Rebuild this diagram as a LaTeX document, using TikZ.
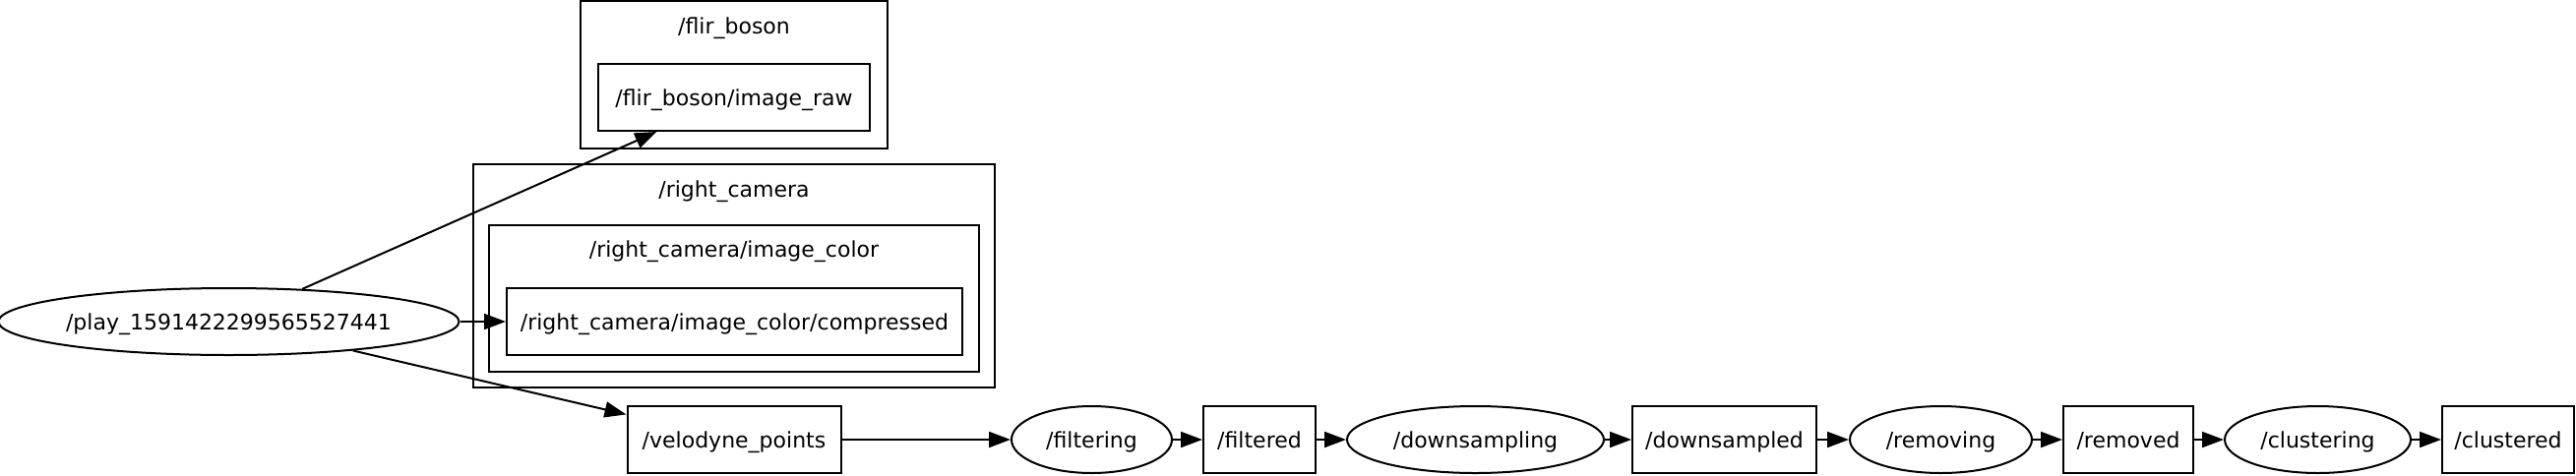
\documentclass[tikz,border=0pt]{standalone}
\usepackage{fontspec}
\setmainfont{DejaVu Sans}
\usepackage{tikz}
\usetikzlibrary{shapes.geometric,arrows.meta}

\begin{document}
\begin{tikzpicture}[x=0.5pt, y=-0.5pt, line width=1pt,
      every node/.style={font=\fontsize{11}{13}\selectfont, text depth=0pt},
      topic/.style={rectangle, draw, minimum height=34pt, inner sep=0pt},
      rosnode/.style={ellipse, draw, minimum height=34pt, inner sep=0pt},
      cluster/.style={rectangle, draw, inner sep=0pt},
      pub/.style={-{Triangle[length=11pt,width=8pt]}}
      ]
      \useasboundingbox (0,0) rectangle (2618,483);
      % namespaces
      \node[cluster, minimum width=156pt, minimum height=75pt] (flirns) at (746,76) {};
      \node (flirtitle) at (746,26) {/flir\_boson};
      \node[cluster, minimum width=265pt, minimum height=113.5pt] (rightns) at (746,280.5) {};
      \node (righttitle) at (746,192) {/right\_camera};
      \node[cluster, minimum width=249pt, minimum height=74.5pt] (colorns) at (746,303.5) {};
      \node (colortitle) at (746,253) {/right\_camera/image\_color};
      % nodes and topics
      \node[rosnode, minimum width=230pt] (play) at (232.5,327) {/play\_1591422299565527441};
      \node[topic, minimum width=138pt] (raw) at (746,99) {/flir\_boson/image\_raw};
      \node[topic, minimum width=231.5pt] (compressed) at (746.5,327) {/right\_camera/image\_color/compressed};
      \node[topic, minimum width=108.5pt] (velodyne) at (746,447) {/velodyne\_points};
      \node[rosnode, minimum width=81.5pt] (filtering) at (1109.5,447) {/filtering};
      \node[topic, minimum width=57pt] (filtered) at (1280,447) {/filtered};
      \node[rosnode, minimum width=130.5pt] (downsampling) at (1499.5,447) {/downsampling};
      \node[topic, minimum width=93.5pt] (downsampled) at (1752.5,447) {/downsampled};
      \node[rosnode, minimum width=92.5pt] (removing) at (1972.5,447) {/removing};
      \node[topic, minimum width=66pt] (removed) at (2163,447) {/removed};
      \node[rosnode, minimum width=94.5pt] (clustering) at (2355.5,447) {/clustering};
      \node[topic, minimum width=67pt] (clustered) at (2549,447) {/clustered};
      % edges
      \draw[pub] (play) -- (raw);
      \draw[pub] (play) -- (compressed);
      \draw[pub] (play) -- (velodyne);
      \draw[pub] (velodyne) -- (filtering);
      \draw[pub] (filtering) -- (filtered);
      \draw[pub] (filtered) -- (downsampling);
      \draw[pub] (downsampling) -- (downsampled);
      \draw[pub] (downsampled) -- (removing);
      \draw[pub] (removing) -- (removed);
      \draw[pub] (removed) -- (clustering);
      \draw[pub] (clustering) -- (clustered);
    \end{tikzpicture}
\end{document}
